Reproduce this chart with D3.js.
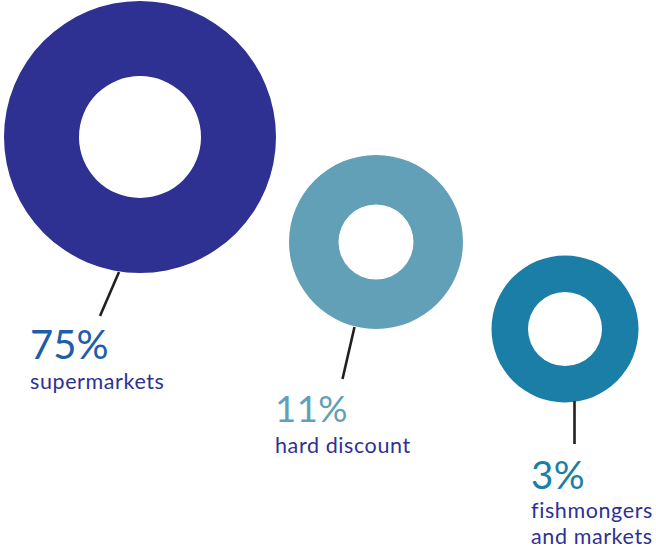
<!DOCTYPE html>
<html>
<head>
<meta charset="utf-8">
<script src="https://cdn.jsdelivr.net/npm/d3@7"></script>
<style>
  html, body { margin: 0; padding: 0; background: #fff; }
  svg { display: block; }
  text { font-family: Lato, "Open Sans", sans-serif; }
</style>
</head>
<body>
<svg id="chart" width="656" height="548"></svg>
<script>
// ---- data ----
const categories = ["supermarkets", "hard discount", "fishmongers and markets"];
const labelLines = [["supermarkets"], ["hard discount"], ["fishmongers", "and markets"]];
const values = [75, 11, 3];
const valueLabels = ["75%", "11%", "3%"];

// ---- styles / layout (kept separate from data) ----
const ringColors = ["#2E3192", "#62A0B8", "#1B7EA7"];
const pctColors = ["#1D5DA9", "#62A0B8", "#1B7EA7"];
const labelColor = "#2E3192";
const centers = [[140, 137], [376, 242], [565, 329]];
const innerR = [61, 37.5, 37];
const leader = [[[119, 272], [100, 316]], [[354.5, 327], [342.5, 379]], [[574.5, 401], [574.5, 444]]];
const textX = [30, 275, 531];
const pctBase = [358.5, 422, 488.5];
const pctSize = [40, 36.5, 38.5];
const pctSpacing = [0, 0.5, 0.3];
const lblBase = [[388.5], [452.5], [518, 544]];
const lblSize = 21.5;
const lblSpacing = 0.6;

const svg = d3.select("#chart");

// outer radius scale (polylinear mapping of share to ring size)
const rScale = d3.scaleLinear().domain([3, 11, 75]).range([73.5, 87, 136]);

const arc = d3.arc().startAngle(0).endAngle(2 * Math.PI);

const g = svg.selectAll("g.item").data(values).join("g").attr("class", "item");

g.append("path")
  .attr("transform", (d, i) => `translate(${centers[i][0]},${centers[i][1]})`)
  .attr("d", (d, i) => arc({ innerRadius: innerR[i], outerRadius: rScale(d) }))
  .attr("fill", (d, i) => ringColors[i]);

g.append("line")
  .attr("x1", (d, i) => leader[i][0][0])
  .attr("y1", (d, i) => leader[i][0][1])
  .attr("x2", (d, i) => leader[i][1][0])
  .attr("y2", (d, i) => leader[i][1][1])
  .attr("stroke", "#231F20")
  .attr("stroke-width", 2.6);

g.append("text")
  .attr("x", (d, i) => textX[i])
  .attr("y", (d, i) => pctBase[i])
  .attr("fill", (d, i) => pctColors[i])
  .attr("font-size", (d, i) => pctSize[i])
  .attr("letter-spacing", (d, i) => pctSpacing[i])
  .text((d, i) => valueLabels[i]);

g.each(function (d, i) {
  d3.select(this).selectAll("text.lbl").data(labelLines[i]).join("text")
    .attr("class", "lbl")
    .attr("x", textX[i])
    .attr("y", (t, j) => lblBase[i][j])
    .attr("fill", labelColor)
    .attr("font-size", lblSize)
    .attr("letter-spacing", lblSpacing)
    .text(t => t);
});
</script>
</body>
</html>
